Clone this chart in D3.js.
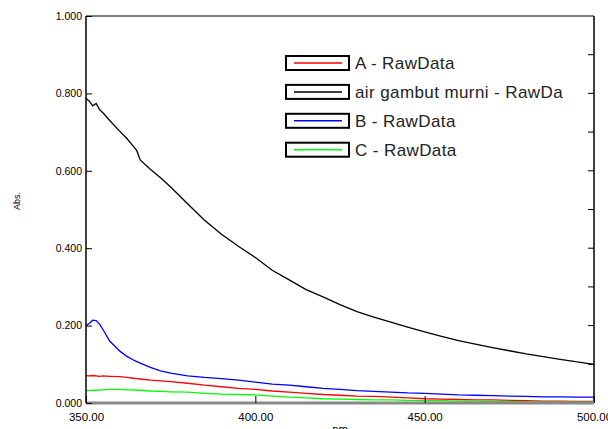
<!DOCTYPE html>
<html>
<head>
<meta charset="utf-8">
<script src="https://cdn.jsdelivr.net/npm/d3@7"></script>
<style>
    body { margin: 0; background: #fff; }
    svg { display: block; font-family: "Liberation Sans", Arial, sans-serif; }
</style>
</head>
<body>
<div id="spectrum"></div>
<script>
// wavelength grid (nm)
var wavelengths = [350, 351, 352, 353, 354, 355, 357, 360, 362, 364, 365, 366, 369, 372, 375,
    380, 385, 390, 395, 400, 405, 410, 415, 420, 425, 430, 435, 440, 445, 450,
    455, 460, 465, 470, 475, 480, 485, 490, 495, 500];

var abs_a = [0.071, 0.070, 0.071, 0.070, 0.069, 0.070, 0.069, 0.068, 0.066, 0.064, 0.063, 0.062, 0.059, 0.057, 0.055,
    0.051, 0.046, 0.042, 0.038, 0.035, 0.031, 0.028, 0.025, 0.022, 0.020, 0.018, 0.017, 0.015, 0.013, 0.011,
    0.010, 0.009, 0.008, 0.008, 0.007, 0.006, 0.005, 0.005, 0.004, 0.004];

var abs_murni = [0.787, 0.780, 0.768, 0.774, 0.758, 0.750, 0.730, 0.702, 0.684, 0.663, 0.652, 0.628, 0.604, 0.582, 0.558,
    0.515, 0.472, 0.436, 0.405, 0.376, 0.343, 0.318, 0.293, 0.274, 0.254, 0.236, 0.222, 0.209, 0.196, 0.184,
    0.172, 0.161, 0.152, 0.143, 0.135, 0.127, 0.120, 0.113, 0.106, 0.100];

var abs_b = [0.200, 0.206, 0.214, 0.213, 0.204, 0.190, 0.160, 0.134, 0.121, 0.111, 0.107, 0.103, 0.092, 0.083, 0.077,
    0.070, 0.066, 0.063, 0.059, 0.054, 0.049, 0.046, 0.042, 0.038, 0.035, 0.032, 0.030, 0.028, 0.026, 0.025,
    0.023, 0.021, 0.020, 0.019, 0.018, 0.017, 0.016, 0.016, 0.015, 0.015];

var abs_c = [0.032, 0.032, 0.033, 0.033, 0.034, 0.034, 0.035, 0.035, 0.034, 0.034, 0.033, 0.033, 0.031, 0.030, 0.029,
    0.028, 0.025, 0.023, 0.022, 0.021, 0.018, 0.015, 0.013, 0.011, 0.010, 0.009, 0.008, 0.008, 0.007, 0.006,
    0.006, 0.005, 0.005, 0.004, 0.004, 0.003, 0.003, 0.002, 0.002, 0.002];

var series_names = ["A - RawData", "air gambut murni - RawDa", "B - RawData", "C - RawData"];
var series_colors = ["#ff0000", "#000000", "#0000ff", "#00ff00"];

var x_ticks = [350, 400, 450, 500];
var y_ticks = [0, 0.2, 0.4, 0.6, 0.8, 1.0];
var y_minor = [0.1, 0.2, 0.3, 0.4, 0.5, 0.6, 0.7, 0.8, 0.9];

function render(id_name){
    var width = 608, height = 429;
    var margin = {top: 16, right: 14, bottom: 26, left: 86};
    var plot_w = width - margin.left - margin.right,
        plot_h = height - margin.top - margin.bottom;

    var svg = d3.select(id_name)
        .append("svg")
            .attr("width", width)
            .attr("height", height);

    var g = svg.append("g")
        .attr("transform", "translate(" + margin.left + "," + margin.top + ")");

    var x = d3.scaleLinear().domain([350, 500]).range([0, plot_w]);
    var y = d3.scaleLinear().domain([0, 1]).range([plot_h, 0]);

    // series lines
    var all = [abs_a, abs_murni, abs_b, abs_c];
    var line = d3.line()
        .x(function(d, i){ return x(wavelengths[i]); })
        .y(function(d){ return y(d); });

    g.selectAll(".series")
        .data(all)
        .enter()
        .append("path")
            .attr("class", "series")
            .attr("d", line)
            .attr("fill", "none")
            .attr("stroke", function(d, i){ return series_colors[i]; })
            .attr("stroke-width", 1.3);

    // frame
    g.append("line")
        .attr("x1", 0).attr("x2", plot_w)
        .attr("y1", 0).attr("y2", 0)
        .attr("stroke", "#555").attr("stroke-width", 1.5);
    g.append("line")
        .attr("x1", plot_w).attr("x2", plot_w)
        .attr("y1", 0).attr("y2", plot_h)
        .attr("stroke", "#000").attr("stroke-width", 1.5);
    g.append("line")
        .attr("x1", 0).attr("x2", 0)
        .attr("y1", 0).attr("y2", plot_h)
        .attr("stroke", "#000").attr("stroke-width", 1.5);
    g.append("line")
        .attr("x1", 0).attr("x2", plot_w)
        .attr("y1", plot_h).attr("y2", plot_h)
        .attr("stroke", "#888").attr("stroke-width", 3);

    // left axis, ticks pointing inward
    var y_axis = g.append("g")
        .call(d3.axisRight(y).tickValues(y_ticks).tickSize(6).tickFormat(d3.format(".3f")));
    y_axis.select(".domain").remove();
    y_axis.selectAll("line").attr("stroke", "#000");
    y_axis.selectAll("text")
        .attr("x", -4)
        .attr("text-anchor", "end")
        .attr("fill", "#000")
        .style("font-size", "10.5px");

    // right side tick marks
    g.selectAll(".rtick")
        .data(y_minor)
        .enter()
        .append("line")
            .attr("class", "rtick")
            .attr("x1", plot_w - 6).attr("x2", plot_w)
            .attr("y1", function(d){ return y(d); })
            .attr("y2", function(d){ return y(d); })
            .attr("stroke", "#000");

    // bottom axis, ticks pointing up
    var x_axis = g.append("g")
        .attr("transform", "translate(0," + plot_h + ")")
        .call(d3.axisTop(x).tickValues(x_ticks).tickSize(7).tickFormat(d3.format(".2f")));
    x_axis.select(".domain").remove();
    x_axis.selectAll("line").attr("stroke", "#000");
    x_axis.selectAll("text")
        .attr("y", 18)
        .attr("fill", "#000")
        .style("font-size", "11.5px");

    // axis titles
    svg.append("text")
        .attr("transform", "translate(20,201) rotate(-90)")
        .attr("text-anchor", "middle")
        .style("font-size", "9px")
        .text("Abs.");

    svg.append("text")
        .attr("x", margin.left + plot_w / 2)
        .attr("y", 433)
        .attr("text-anchor", "middle")
        .style("font-size", "11px")
        .text("nm");

    // legend
    var legend = g.selectAll(".legend")
        .data(series_names)
        .enter()
        .append("g")
            .attr("class", "legend")
            .attr("transform", function(d, i){
                return "translate(" + (286 - margin.left) + "," + (56 + i * 28.9 - margin.top) + ")";
            });

    legend.append("rect")
        .attr("width", 63)
        .attr("height", 14)
        .attr("fill", "#fff")
        .attr("stroke", "#000")
        .attr("stroke-width", 2);

    legend.append("line")
        .attr("x1", 8).attr("x2", 56)
        .attr("y1", 7).attr("y2", 7)
        .attr("stroke", function(d, i){ return series_colors[i]; })
        .attr("stroke-width", 1.5);

    legend.append("text")
        .attr("x", 69)
        .attr("y", 13)
        .style("font-size", "17px")
        .style("letter-spacing", "0.4px")
        .attr("fill", "#222")
        .text(function(d){ return d; });
}

render("#spectrum");
</script>
</body>
</html>
